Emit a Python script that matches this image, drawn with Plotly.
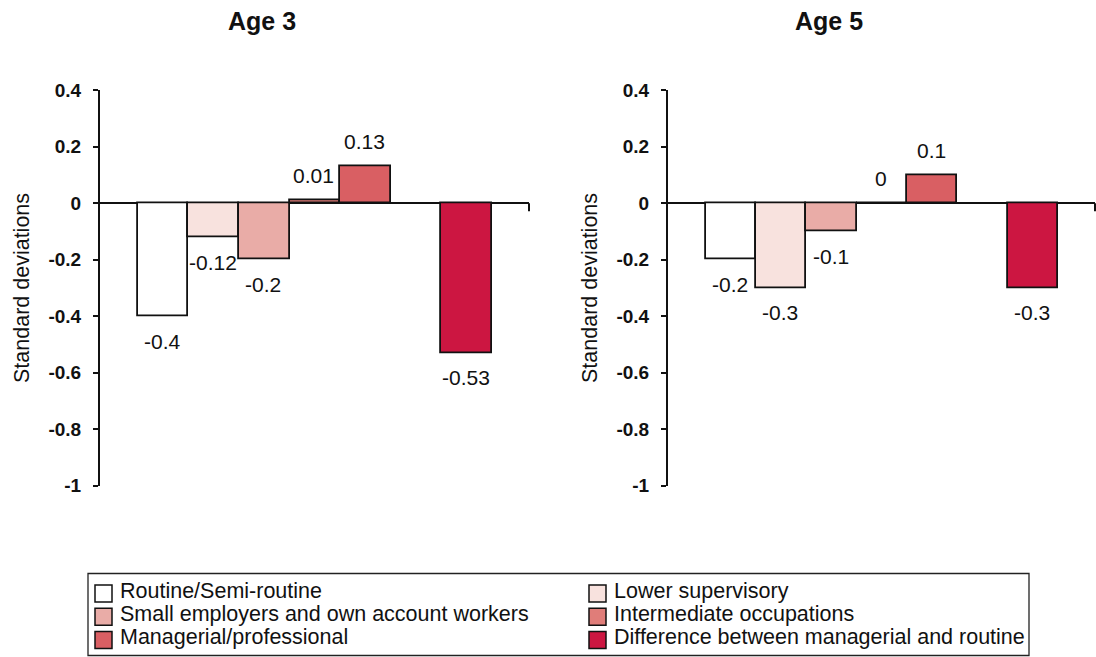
import plotly.graph_objects as go

# Occupational groups (one bar each) and the standardised scores per age
groups = [
    "Routine/Semi-routine",
    "Lower supervisory",
    "Small employers and own account workers",
    "Intermediate occupations",
    "Managerial/professional",
    "Difference between managerial and routine",
]
age3_values = [-0.4, -0.12, -0.2, 0.01, 0.13, -0.53]
age5_values = [-0.2, -0.3, -0.1, 0.0, 0.1, -0.3]
panel_titles = ["Age 3", "Age 5"]
y_tick_values = [0.4, 0.2, 0, -0.2, -0.4, -0.6, -0.8, -1]
y_tick_labels = ["0.4", "0.2", "0", "-0.2", "-0.4", "-0.6", "-0.8", "-1"]
y_title = "Standard deviations"

bar_colors = ["#ffffff", "#f8e2de", "#e9aca7", "#e07d79", "#d95f63", "#cc1641"]

FONT = "Liberation Sans, Arial, Helvetica, sans-serif"
INK = "#111111"
W, H = 1096, 657


def px_x(v):
    return v / W


def px_y(v):
    return (H - v) / H


# empty slot separating the difference bar from the groups
spacer = " "
category_order = groups[:5] + [spacer] + groups[5:]

panels = [
    dict(values=age3_values, xa="x", ya="y", domain=[px_x(100), px_x(529)]),
    dict(values=age5_values, xa="x2", ya="y2", domain=[px_x(668), px_x(1095)]),
]
y_domain = [px_y(485.7), px_y(90.3)]

fig = go.Figure()
for p in panels:
    fig.add_trace(go.Bar(
        x=groups, y=p["values"],
        xaxis=p["xa"], yaxis=p["ya"],
        marker=dict(color=bar_colors, line=dict(color=INK, width=1.8)),
        showlegend=False, hoverinfo="x+y",
    ))

annotations = []
shapes = []

# value labels above / below each bar
for p in panels:
    for g, v in zip(groups, p["values"]):
        annotations.append(dict(
            x=g, y=v, xref=p["xa"], yref=p["ya"], text=f"{v:g}",
            showarrow=False, yshift=25 if v >= 0 else -25, xshift=-1,
            font=dict(family=FONT, size=21, color=INK),
        ))

# panel titles
for tx, title in zip([262, 829], panel_titles):
    annotations.append(dict(
        x=px_x(tx), y=px_y(20.5), xref="paper", yref="paper", text=title,
        showarrow=False, xanchor="center", yanchor="middle",
        font=dict(family=FONT, size=25, color=INK, weight="bold"),
    ))

# rotated y-axis titles
for tx in [22, 590]:
    annotations.append(dict(
        x=px_x(tx), y=px_y(288), xref="paper", yref="paper", text=y_title,
        textangle=-90, showarrow=False, xanchor="center", yanchor="middle",
        font=dict(family=FONT, size=21.5, color=INK),
    ))

# tick mark closing the category axis on the right
for p in panels:
    shapes.append(dict(
        type="line", xref=f"{p['xa']} domain", yref=p["ya"],
        x0=1, x1=1, y0=0, y1=-8, ysizemode="pixel", yanchor=0,
        line=dict(color=INK, width=2),
    ))

# legend: two columns, three rows, inside a framed box
legend_box = dict(left=88, right=1029, top=573.5, bottom=655.5)
col_left = [95, 589]
row_top, row_step, swatch = 593.5, 23.3, 17
shapes.append(dict(
    type="rect", xref="paper", yref="paper",
    x0=px_x(legend_box["left"]), x1=px_x(legend_box["right"]),
    y0=px_y(legend_box["bottom"]), y1=px_y(legend_box["top"]),
    line=dict(color="#222222", width=1.3), fillcolor="rgba(0,0,0,0)",
))
for i, (name, col) in enumerate(zip(groups, bar_colors)):
    sx = col_left[i % 2]
    cy = row_top + row_step * (i // 2)
    shapes.append(dict(
        type="rect", xref="paper", yref="paper",
        x0=px_x(sx), x1=px_x(sx + swatch),
        y0=px_y(cy + swatch / 2), y1=px_y(cy - swatch / 2),
        line=dict(color=INK, width=1.5), fillcolor=col,
    ))
    annotations.append(dict(
        x=px_x(sx + swatch + 6), y=px_y(cy - 3), xref="paper", yref="paper",
        text=name, showarrow=False, xanchor="left", yanchor="middle",
        font=dict(family=FONT, size=21.5, color=INK),
    ))

x_common = dict(
    type="category", categoryorder="array", categoryarray=category_order,
    range=[-1.25, 7.235], showticklabels=False, ticks="", showline=False,
    showgrid=False, zeroline=False, fixedrange=True,
)
y_common = dict(
    range=[-1, 0.4], domain=y_domain, tickmode="array",
    tickvals=y_tick_values, ticktext=y_tick_labels,
    ticks="outside", ticklen=5, tickwidth=2, tickcolor=INK,
    showline=True, linecolor=INK, linewidth=2,
    showgrid=False, zeroline=True, zerolinecolor=INK, zerolinewidth=1.8,
    tickfont=dict(family=FONT, size=19, color=INK, weight="bold"),
    ticklabelstandoff=8, fixedrange=True,
)

fig.update_layout(
    width=W, height=H,
    margin=dict(l=0, r=0, t=0, b=0, pad=0, autoexpand=False),
    paper_bgcolor="white", plot_bgcolor="white",
    bargap=0, showlegend=False,
    font=dict(family=FONT, color=INK),
    xaxis=dict(domain=panels[0]["domain"], anchor="y", **x_common),
    xaxis2=dict(domain=panels[1]["domain"], anchor="y2", **x_common),
    yaxis=dict(anchor="x", **y_common),
    yaxis2=dict(anchor="x2", **y_common),
    annotations=annotations,
    shapes=shapes,
)

fig.write_html("out.html")
